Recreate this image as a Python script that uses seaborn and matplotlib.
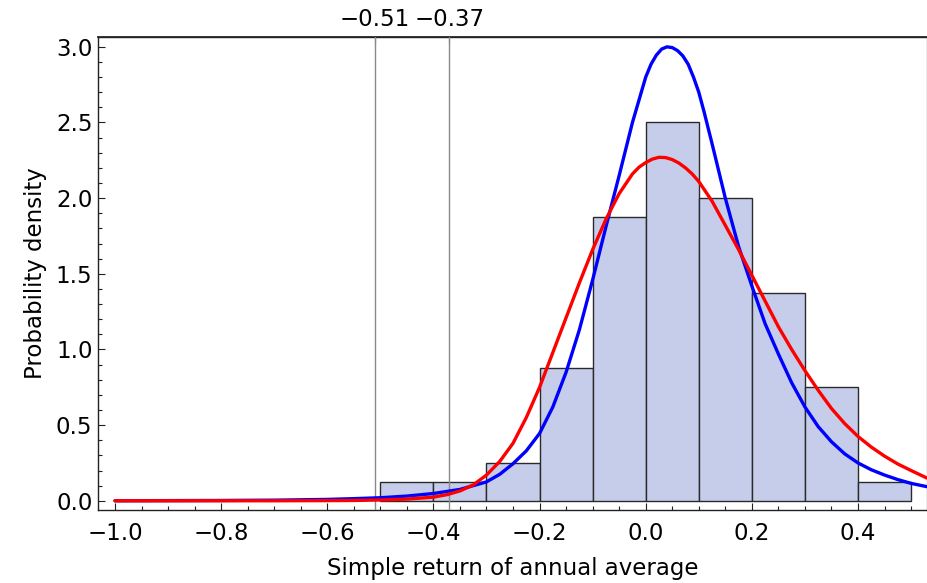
import matplotlib
matplotlib.use("Agg")
import numpy as np
import pandas as pd
import matplotlib.pyplot as plt
import seaborn as sns
from matplotlib.ticker import MultipleLocator, FixedLocator

# ---------------- data ----------------
bin_edges = [-0.5, -0.4, -0.3, -0.2, -0.1, 0.0, 0.1, 0.2, 0.3, 0.4, 0.5]
bin_heights = [0.125, 0.125, 0.25, 0.875, 1.875, 2.5, 2.0, 1.375, 0.75, 0.125]

red_x = [-1.00, -0.90, -0.80, -0.70, -0.60, -0.55, -0.50, -0.45, -0.40, -0.375,
         -0.35, -0.325, -0.30, -0.275, -0.25, -0.225, -0.20, -0.175, -0.15, -0.125,
         -0.10, -0.075, -0.05, -0.025, -0.0125, 0.00, 0.0125, 0.025, 0.0375, 0.05,
         0.0625, 0.075, 0.0875, 0.10, 0.125,
         0.15, 0.175, 0.20, 0.225, 0.25, 0.275, 0.30, 0.325, 0.35, 0.375,
         0.40, 0.425, 0.45, 0.475, 0.50, 0.53]
red_y = [0.000, 0.000, 0.000, 0.000, 0.001, 0.002, 0.005, 0.011, 0.024, 0.040,
         0.065, 0.105, 0.17, 0.26, 0.38, 0.55, 0.75, 0.98, 1.21, 1.44,
         1.66, 1.86, 2.03, 2.16, 2.205, 2.235, 2.258, 2.27, 2.268, 2.255,
         2.232, 2.20, 2.16, 2.11, 1.98,
         1.82, 1.66, 1.49, 1.32, 1.15, 1.00, 0.86, 0.73, 0.61, 0.51,
         0.425, 0.355, 0.295, 0.243, 0.20, 0.15]

blue_x = [-1.00, -0.90, -0.80, -0.70, -0.60, -0.55, -0.50, -0.45, -0.40, -0.35,
          -0.30, -0.275, -0.25, -0.225, -0.20, -0.175, -0.15, -0.125, -0.10, -0.075,
          -0.05, -0.025, 0.00, 0.01, 0.02, 0.03, 0.04, 0.05, 0.06, 0.07,
          0.08, 0.09, 0.10, 0.11, 0.125, 0.15,
          0.175, 0.20, 0.225, 0.25, 0.275, 0.30, 0.325, 0.35, 0.375, 0.40,
          0.425, 0.45, 0.475, 0.50, 0.53]
blue_y = [0.000, 0.001, 0.002, 0.004, 0.009, 0.014, 0.020, 0.031, 0.048, 0.075,
          0.125, 0.175, 0.245, 0.33, 0.445, 0.62, 0.85, 1.13, 1.46, 1.81,
          2.15, 2.50, 2.80, 2.885, 2.945, 2.985, 3.00, 2.995, 2.975, 2.94,
          2.885, 2.80, 2.70, 2.57, 2.36, 2.00,
          1.68, 1.42, 1.17, 0.97, 0.78, 0.62, 0.49, 0.39, 0.31, 0.25,
          0.205, 0.17, 0.14, 0.115, 0.093]

marker_values = [-0.51, -0.37]
marker_labels = ["\u22120.51", "\u22120.37"]

x_label = "Simple return of annual average"
y_label = "Probability density"

# ---------------- drawing ----------------
sns.set_theme(style="white")
plt.rcParams["font.family"] = ["DejaVu Sans"]
plt.rcParams["axes.unicode_minus"] = True

W, H = 928, 583
fig = plt.figure(figsize=(W / 100, H / 100), dpi=100)
L, R, T, B = 98, 927, 37, 510
ax = fig.add_axes([L / W, 1 - B / H, (R - L) / W, (B - T) / H])

centers = [(a + b) / 2 for a, b in zip(bin_edges[:-1], bin_edges[1:])]
hist_df = pd.DataFrame({"x": centers, "w": bin_heights})
sns.histplot(data=hist_df, x="x", weights="w", bins=bin_edges, stat="count",
             color="#C5CDEA", alpha=1.0, edgecolor="#2a2a2a", linewidth=1.0,
             ax=ax, zorder=2)

for v in marker_values:
    ax.axvline(v, color="#8a8a8a", lw=1.0, zorder=3)

sns.lineplot(x=blue_x, y=blue_y, color="#0000FF", lw=2.4, ax=ax, sort=False,
             zorder=4, estimator=None)
sns.lineplot(x=red_x, y=red_y, color="#FF0000", lw=2.4, ax=ax, sort=False,
             zorder=5, estimator=None)
for ln in ax.get_lines():
    ln.set_solid_joinstyle("round")
    ln.set_solid_capstyle("round")

ax.set_xlim(-1.032, 0.530)
ax.set_ylim(-0.061, 3.065)

FS = 16.5
ax.xaxis.set_major_locator(FixedLocator([-1.0, -0.8, -0.6, -0.4, -0.2, 0.0, 0.2, 0.4]))
ax.xaxis.set_minor_locator(MultipleLocator(0.05))
ax.yaxis.set_major_locator(MultipleLocator(0.5))
ax.yaxis.set_minor_locator(MultipleLocator(0.1))
ax.xaxis.set_major_formatter(matplotlib.ticker.FuncFormatter(
    lambda v, p: ("%.1f" % v).replace("-", "\u2212") if abs(v) > 1e-9 else "0.0"))
ax.yaxis.set_major_formatter(matplotlib.ticker.FuncFormatter(lambda v, p: "%.1f" % v))

ax.tick_params(axis="x", which="major", direction="in", length=5, width=0.8,
               color="#222222", labelsize=FS, labelcolor="black", pad=9,
               bottom=True, top=False)
ax.tick_params(axis="x", which="minor", direction="in", length=3, width=0.8,
               color="#222222", bottom=True, top=False)
ax.tick_params(axis="y", which="major", direction="in", length=5, width=0.8,
               color="#222222", labelsize=FS, labelcolor="black", pad=4,
               left=True, right=False)
ax.tick_params(axis="y", which="minor", direction="in", length=3, width=0.8,
               color="#222222", left=True, right=False)

for side in ["left", "bottom", "top"]:
    ax.spines[side].set_color("#222222")
    ax.spines[side].set_linewidth(1.0)
ax.spines["right"].set_color("#9a9a9a")
ax.spines["right"].set_linewidth(1.0)

ax.set_xlabel(x_label, fontsize=FS, labelpad=8, color="black")
ax.set_ylabel(y_label, fontsize=FS, labelpad=6, color="black")

top = ax.secondary_xaxis("top")
top.set_xticks(marker_values)
top.set_xticklabels(marker_labels)
top.tick_params(axis="x", direction="in", length=5, width=0.8, color="#222222",
                labelsize=FS, labelcolor="black", pad=4)
top.xaxis.set_minor_locator(matplotlib.ticker.NullLocator())
top.spines["top"].set_color("#222222")

fig.savefig("out.png", dpi=100)
